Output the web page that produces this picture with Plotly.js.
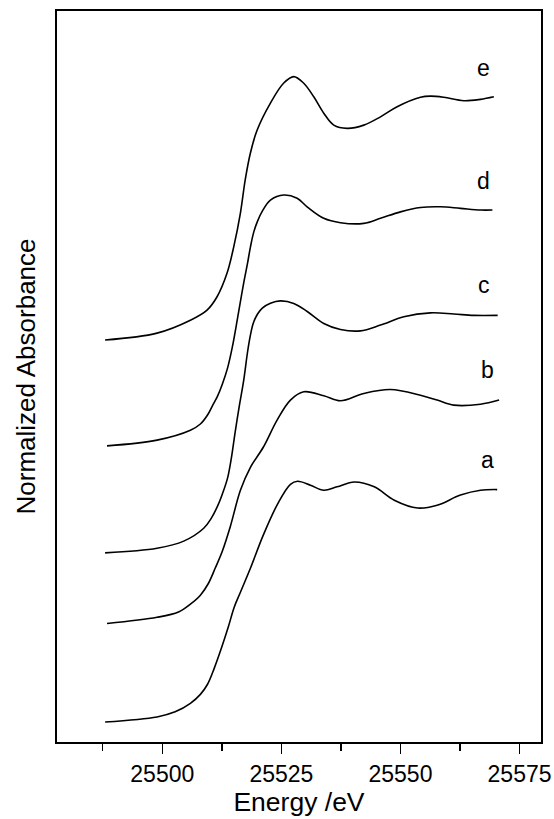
<!DOCTYPE html>
<html>
<head>
<meta charset="utf-8">
<script src="https://cdn.plot.ly/plotly-3.0.1.min.js"></script>
<style>
  html, body { margin: 0; padding: 0; background: #fff; }
  #chart { width: 554px; height: 819px; }
</style>
</head>
<body>
<div id="chart"></div>
<script>
// Stacked XANES spectra (normalized absorbance, vertically offset)
const energyA = [25488.0, 25498.9, 25502.7, 25505.9, 25508.0, 25509.5, 25510.9, 25512.4, 25513.9, 25515.1, 25516.4, 25518.5, 25521.2, 25524.2, 25526.9, 25528.4, 25531.1, 25533.9, 25536.7, 25540.3, 25544.5, 25548.7, 25553.6, 25557.7, 25562.6, 25566.8, 25570.3];
const specA   = [0.087, 0.109, 0.131, 0.168, 0.207, 0.251, 0.320, 0.407, 0.503, 0.586, 0.651, 0.755, 0.899, 1.034, 1.120, 1.133, 1.116, 1.094, 1.109, 1.130, 1.109, 1.051, 1.017, 1.029, 1.073, 1.094, 1.097];

const energyB = [25488.4, 25498.9, 25503.4, 25505.9, 25508.0, 25509.7, 25511.1, 25512.6, 25514.3, 25516.4, 25518.5, 25521.2, 25524.1, 25526.9, 25529.7, 25533.9, 25537.4, 25542.3, 25547.9, 25554.2, 25557.7, 25561.2, 25566.8, 25570.7];
const specB   = [0.515, 0.542, 0.565, 0.599, 0.638, 0.690, 0.755, 0.829, 0.938, 1.094, 1.194, 1.281, 1.399, 1.486, 1.522, 1.505, 1.483, 1.515, 1.532, 1.507, 1.486, 1.464, 1.468, 1.486];

const energyC = [25488.0, 25498.9, 25504.5, 25508.7, 25510.3, 25511.6, 25512.6, 25513.7, 25514.5, 25515.3, 25516.2, 25517.1, 25517.9, 25518.5, 25519.1, 25520.0, 25521.0, 25522.7, 25524.8, 25527.6, 25530.5, 25533.9, 25537.4, 25541.6, 25545.8, 25550.7, 25556.3, 25561.2, 25565.4, 25570.4];
const specC   = [0.822, 0.842, 0.873, 0.929, 0.973, 1.025, 1.077, 1.147, 1.234, 1.347, 1.464, 1.573, 1.695, 1.768, 1.820, 1.860, 1.886, 1.907, 1.917, 1.906, 1.870, 1.819, 1.793, 1.787, 1.812, 1.848, 1.865, 1.860, 1.854, 1.854];

const energyD = [25488.4, 25498.9, 25505.9, 25508.0, 25509.5, 25510.5, 25511.6, 25512.6, 25513.7, 25514.7, 25515.8, 25516.6, 25517.2, 25517.9, 25518.5, 25519.2, 25520.0, 25521.0, 25522.7, 25525.5, 25528.3, 25530.4, 25533.9, 25537.4, 25542.3, 25545.8, 25550.0, 25554.2, 25558.4, 25562.6, 25566.8, 25569.3];
const specD   = [1.287, 1.312, 1.355, 1.382, 1.421, 1.460, 1.503, 1.555, 1.625, 1.716, 1.842, 1.938, 2.007, 2.081, 2.151, 2.216, 2.264, 2.307, 2.355, 2.377, 2.363, 2.326, 2.276, 2.257, 2.254, 2.276, 2.304, 2.323, 2.326, 2.319, 2.312, 2.312];

const energyE = [25488.0, 25498.9, 25505.9, 25509.4, 25511.5, 25513.6, 25515.0, 25516.4, 25517.4, 25518.5, 25519.9, 25522.7, 25525.5, 25527.6, 25529.7, 25531.8, 25533.9, 25536.0, 25538.8, 25542.3, 25545.8, 25549.3, 25554.2, 25556.3, 25559.1, 25563.3, 25566.8, 25569.6];
const specE   = [1.747, 1.777, 1.833, 1.877, 1.935, 2.038, 2.152, 2.299, 2.442, 2.560, 2.659, 2.777, 2.864, 2.892, 2.863, 2.804, 2.733, 2.681, 2.667, 2.681, 2.717, 2.761, 2.802, 2.807, 2.802, 2.787, 2.793, 2.804];

const seriesNames = ['a', 'b', 'c', 'd', 'e'];
const xTickVals = [25500, 25525, 25550, 25575];
const xTickText = ['25500', '25525', '25550', '25575'];

const energies = [energyA, energyB, energyC, energyD, energyE];
const spectra = [specA, specB, specC, specD, specE];

const traces = spectra.map((s, i) => ({
  type: 'scatter',
  mode: 'lines',
  name: seriesNames[i],
  x: energies[i],
  y: s,
  line: { color: '#000', width: 1.6, shape: 'spline', smoothing: 1 },
  hoverinfo: 'skip'
}));

// curve letters sit to the upper right of each spectrum's tail
const labelX = [25568.3, 25568.3, 25567.5, 25567.5, 25567.5];
const labelY = [1.225, 1.615, 1.985, 2.44, 2.93];
const baseFont = 'Arial, "Liberation Sans", sans-serif';
const annotations = seriesNames.map((n, i) => ({
  x: labelX[i], y: labelY[i], xref: 'x', yref: 'y',
  text: n, showarrow: false,
  font: { family: baseFont, size: 23, color: '#000' },
  xanchor: 'center', yanchor: 'middle'
}));

const layout = {
  width: 554, height: 819,
  margin: { l: 56.5, r: 13, t: 11, b: 77 },
  paper_bgcolor: '#fff', plot_bgcolor: '#fff',
  showlegend: false,
  font: { family: baseFont, color: '#000' },
  xaxis: {
    range: [25477.9, 25579.5],
    tickvals: xTickVals, ticktext: xTickText,
    ticks: 'outside', ticklen: 10, tickwidth: 1.5, tickcolor: '#000',
    minor: { tickvals: [25487.5, 25512.5, 25537.5, 25562.5], ticks: 'outside', ticklen: 7, tickwidth: 1.5, tickcolor: '#000' },
    showline: true, linecolor: '#000', linewidth: 2, mirror: true,
    showgrid: false, zeroline: false,
    tickfont: { family: baseFont, size: 23, color: '#000' },
    title: { text: 'Energy /eV', font: { family: baseFont, size: 26.5 }, standoff: 5 }
  },
  yaxis: {
    range: [0, 3.177],
    showticklabels: false, ticks: '',
    showline: true, linecolor: '#000', linewidth: 2, mirror: true,
    showgrid: false, zeroline: false,
    title: { text: 'Normalized Absorbance', font: { family: baseFont, size: 26 }, standoff: 12 }
  },
  annotations: annotations
};

Plotly.newPlot('chart', traces, layout, { displayModeBar: false, staticPlot: true });
</script>
</body>
</html>
